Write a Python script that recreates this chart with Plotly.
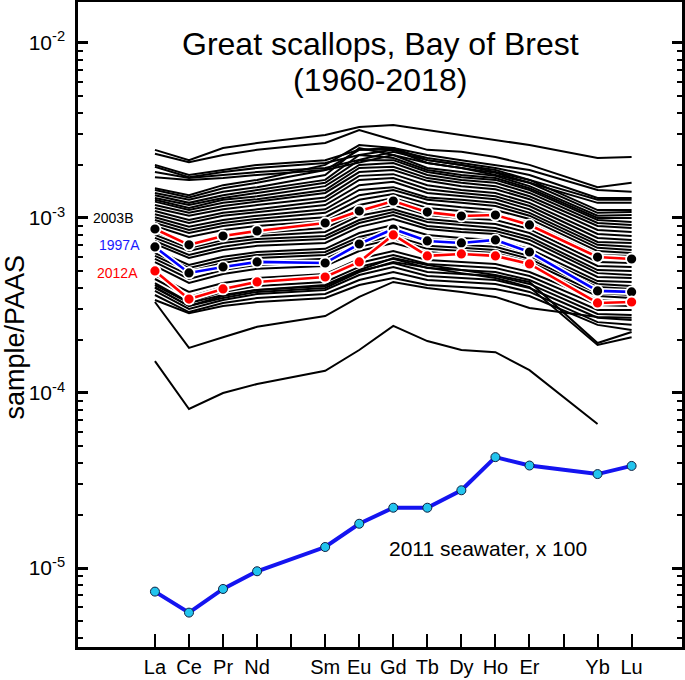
import plotly.graph_objects as go
import math

# ---------------- data ----------------
elements = ["La", "Ce", "Pr", "Nd", "Sm", "Eu", "Gd", "Tb", "Dy", "Ho", "Er", "Yb", "Lu"]
atomic_numbers = [57, 58, 59, 60, 62, 63, 64, 65, 66, 67, 68, 70, 71]
unlabelled_tick_positions = [61, 69]   # Pm, Tm
y_major_ticks = [1e-5, 1e-4, 1e-3, 1e-2]
y_major_labels = ["10<sup>-5</sup>", "10<sup>-4</sup>", "10<sup>-3</sup>", "10<sup>-2</sup>"]
y_minor_ticks = [m * 10.0 ** e for e in (-6, -5, -4, -3, -2) for m in (2, 3, 4, 5, 6, 7, 8, 9)]

# scallop samples, sample/PAAS expressed in units of 1e-4
UNIT = 1e-4
bg01 = [24.5, 21.4, 25.1, 26.8, 29.8, 33.1, 34.0, 31.8, 29.8, 27.9, 26.1, 22.0, 22.3]
bg02 = [23.3, 20.8, 22.9, 24.5, 26.8, 31.8, 27.9, 24.5, 23.9, 22.3, 20.1, 15.0, 15.9]
bg03 = [20.1, 17.6, 18.8, 20.1, 21.4, 24.5, 25.1, 22.9, 21.4, 20.1, 18.8, 14.45, 14.1]
bg04 = [19.6, 17.1, 18.3, 19.3, 20.6, 22.9, 24.5, 22.0, 20.6, 19.3, 17.6, 13.0, 13.0]
bg05 = [18.3, 16.9, 17.6, 18.3, 19.3, 21.4, 23.9, 21.4, 20.1, 18.3, 16.5, 12.7, 12.7]
bg06 = [17.1, 16.5, 16.9, 17.6, 18.8, 20.8, 22.9, 20.6, 19.3, 17.6, 15.9, 12.2, 12.2]
bg07 = [14.8, 13.5, 15.4, 16.5, 20.1, 26.1, 25.1, 21.4, 20.1, 18.8, 16.5, 11.1, 11.1]
bg08 = [14.45, 13.1, 14.8, 15.9, 18.8, 24.5, 24.5, 20.6, 19.3, 18.1, 15.9, 10.7, 10.8]
bg09 = [13.9, 12.7, 14.1, 15.0, 17.6, 25.1, 22.9, 19.3, 18.3, 17.4, 15.2, 10.3, 10.4]
bg10 = [13.5, 12.2, 13.5, 14.45, 16.5, 22.9, 22.0, 18.8, 17.6, 16.9, 14.8, 10.0, 10.0]
bg11 = [13.0, 11.85, 13.0, 13.9, 15.9, 21.4, 21.4, 18.3, 17.1, 16.5, 14.45, 9.74, 9.49]
bg12 = [12.7, 11.4, 12.7, 13.3, 15.2, 20.1, 20.6, 17.6, 16.5, 15.9, 13.9, 9.36, 9.12]
bg13 = [12.4, 11.1, 12.2, 12.8, 14.45, 19.3, 19.6, 16.9, 15.9, 15.2, 13.3, 9.0, 8.76]
bg14 = [11.85, 10.7, 11.7, 12.4, 13.9, 18.3, 18.8, 16.3, 15.2, 14.6, 12.8, 8.54, 8.32]
bg15 = [11.4, 10.3, 11.2, 11.85, 13.1, 17.4, 17.8, 15.4, 14.45, 13.9, 12.2, 8.1, 7.9]
bg16 = [10.95, 9.74, 10.7, 11.2, 12.5, 16.5, 16.9, 14.6, 13.9, 13.3, 11.7, 7.69, 7.49]
bg17 = [10.5, 9.36, 10.3, 10.8, 11.85, 15.4, 16.1, 13.9, 13.3, 12.8, 11.2, 7.3, 7.2]
bg18 = [10.1, 8.9, 9.74, 10.3, 11.2, 14.45, 15.0, 13.1, 12.7, 12.2, 10.7, 7.02, 6.84]
bg19 = [9.74, 8.54, 9.36, 9.87, 10.7, 13.5, 14.45, 12.7, 12.2, 11.7, 10.3, 6.75, 6.56]
bg20 = [9.36, 8.2, 9.0, 9.49, 10.1, 12.7, 13.7, 12.05, 11.5, 11.1, 9.87, 6.47, 6.3]
bg21 = [9.0, 7.79, 8.54, 9.0, 9.6, 11.85, 13.0, 11.4, 10.95, 10.5, 9.36, 6.15, 6.07]
bg22 = [8.32, 7.11, 7.79, 8.2, 8.76, 10.8, 11.85, 10.4, 10.0, 9.74, 8.65, 5.6, 5.53]
bg23 = [8.0, 6.75, 7.49, 7.9, 8.32, 10.3, 11.2, 9.87, 9.49, 9.24, 8.2, 5.32, 5.25]
bg24 = [7.69, 6.47, 7.2, 7.59, 7.9, 9.74, 10.8, 9.49, 9.12, 8.76, 7.79, 5.04, 4.97]
bg25 = [7.39, 6.15, 6.84, 7.3, 7.59, 9.36, 10.4, 9.0, 8.65, 8.43, 7.49, 4.84, 4.72]
bg26 = [7.11, 5.91, 6.56, 6.93, 7.2, 8.9, 9.87, 8.65, 8.32, 8.1, 7.11, 4.6, 4.54]
bg27 = [6.56, 5.39, 6.0, 6.39, 6.66, 8.2, 9.12, 8.0, 7.69, 7.49, 6.66, 4.36, 4.31]
bg28 = [6.3, 5.18, 5.75, 6.15, 6.39, 7.79, 8.65, 7.59, 7.39, 7.2, 6.3, 4.2, 4.09]
bg29 = [6.07, 4.97, 5.53, 5.91, 6.15, 7.49, 8.32, 7.3, 7.02, 6.84, 6.07, 4.03, 3.93]
bg30 = [5.84, 4.72, 5.25, 5.6, 5.84, 7.11, 7.9, 6.93, 6.75, 6.56, 5.84, 3.88, 3.78]
bg31 = [5.6, 4.48, 5.04, 5.39, 5.6, 6.84, 7.59, 6.66, 6.47, 6.3, 5.6, 3.73, 3.63]
bg32 = [5.32, 4.25, 4.78, 5.12, 5.32, 6.47, 7.2, 6.39, 6.15, 6.0, 5.32, 3.58, 3.49]
bg33 = [4.72, 3.78, 4.25, 4.54, 4.78, 5.84, 6.47, 5.75, 5.6, 5.46, 4.91, 3.4, 3.31]
bg34 = [4.48, 3.54, 4.03, 4.31, 4.54, 5.53, 6.15, 5.46, 5.32, 5.18, 4.66, 3.18, 3.14]
bg35 = [4.25, 3.31, 3.78, 4.09, 4.31, 5.25, 5.84, 5.18, 5.04, 4.91, 4.42, 2.98, 2.98]
bg36 = [4.03, 3.14, 3.58, 3.88, 4.09, 4.97, 5.53, 4.91, 4.78, 4.66, 4.2, 2.83, 2.79]
bg37 = [3.83, 3.02, 3.4, 3.68, 3.88, 4.72, 5.25, 4.66, 4.54, 4.42, 3.98, 2.69, 2.61]
bg38 = [3.63, 2.90, 3.27, 3.49, 3.68, 4.42, 4.91, 4.42, 4.31, 4.2, 3.78, 2.54, 2.45]
bg39 = [3.4, 2.86, 3.14, 3.31, 3.49, 4.14, 4.54, 4.14, 4.03, 3.93, 3.58, 2.45, 2.29]
bg40 = [3.31, 1.81, 2.08, 2.39, 2.75, 3.54, 4.31, 3.98, 3.78, 3.54, 3.06, 2.72, 2.69]
bg41 = [1.52, 0.81, 1.0, 1.125, 1.34, 1.76, 2.42, 1.98, 1.76, 1.71, 1.35, 0.665, None]
bg42 = [4.14, 3.27, 3.63, 3.88, 4.14, 5.04, 5.91, 5.39, 5.04, 4.72, 4.31, 1.93, 2.23]
bg43 = [3.98, 3.14, 3.49, 3.78, 3.98, 4.91, 5.6, 5.18, 4.84, 4.54, 4.03, 1.88, 2.08]
background_samples = [bg01, bg02, bg03, bg04, bg05, bg06, bg07, bg08, bg09, bg10, bg11,
                      bg12, bg13, bg14, bg15, bg16, bg17, bg18, bg19, bg20, bg21, bg22,
                      bg23, bg24, bg25, bg26, bg27, bg28, bg29, bg30, bg31, bg32, bg33,
                      bg34, bg35, bg36, bg37, bg38, bg39, bg40, bg41, bg42, bg43]

sample_2003B = [8.65, 7.02, 7.89, 8.43, 9.36, 10.96, 12.5, 10.8, 10.26, 10.4, 9.12, 5.98, 5.83]
sample_1997A = [6.83, 4.85, 5.25, 5.61, 5.53, 7.1, 8.65, 7.39, 7.2, 7.49, 6.39, 3.83, 3.78]
sample_2012A = [4.98, 3.44, 3.93, 4.31, 4.6, 5.61, 8.0, 6.07, 6.23, 6.07, 5.46, 3.27, 3.31]

# 2011 seawater x 100 (sample/PAAS)
seawater_2011_x100 = [7.33e-6, 5.56e-6, 7.59e-6, 9.58e-6, 1.318e-5, 1.79e-5, 2.21e-5,
                      2.21e-5, 2.78e-5, 4.30e-5, 3.85e-5, 3.44e-5, 3.83e-5]

title_line1 = "Great scallops, Bay of Brest"
title_line2 = "(1960-2018)"
y_title = "sample/PAAS"
seawater_label = "2011 seawater, x 100"

# ---------------- figure ----------------
FONT = "Liberation Sans, Arial, Helvetica, sans-serif"
fig = go.Figure()


def scaled(vals):
    return [None if v is None else v * UNIT for v in vals]


for s in background_samples:
    fig.add_trace(go.Scatter(x=atomic_numbers, y=scaled(s), mode="lines",
                             line=dict(color="black", width=2), hoverinfo="skip",
                             showlegend=False))

highlights = [
    (sample_2003B, "#ff0000", "black"),
    (sample_1997A, "#0000ff", "black"),
    (sample_2012A, "#ff0000", "#ff0000"),
]
for vals, lcol, mcol in highlights:
    fig.add_trace(go.Scatter(x=atomic_numbers, y=scaled(vals), mode="lines",
                             line=dict(color="white", width=6), hoverinfo="skip",
                             showlegend=False))
    fig.add_trace(go.Scatter(x=atomic_numbers, y=scaled(vals), mode="lines+markers",
                             line=dict(color=lcol, width=2.6),
                             marker=dict(size=11, color=mcol, line=dict(color="white", width=1.8)),
                             showlegend=False))

fig.add_trace(go.Scatter(x=atomic_numbers, y=seawater_2011_x100, mode="lines+markers",
                         line=dict(color="#1414f0", width=4),
                         marker=dict(size=9, color="#22c4ee", line=dict(color="#102040", width=1)),
                         showlegend=False))

labels = [("2003B", "black", 56.41, 1e-3), ("1997A", "#1a1aff", 56.62, 7.0e-4),
          ("2012A", "#ff0000", 56.56, 4.85e-4)]
for txt, col, xr, yv in labels:
    fig.add_annotation(x=xr, y=math.log10(yv), xref="x", yref="y", text=txt, showarrow=False,
                       xanchor="right", yanchor="middle", font=dict(family=FONT, size=14, color=col))

fig.add_annotation(x=66.78, y=math.log10(1.3e-5), xref="x", yref="y", text=seawater_label,
                   showarrow=False, xanchor="center", yanchor="middle",
                   font=dict(family=FONT, size=21, color="black"))

fig.add_annotation(x=0.5, y=0.935, xref="paper", yref="paper", text=title_line1, showarrow=False,
                   xanchor="center", yanchor="middle", font=dict(family=FONT, size=32, color="black"))
fig.add_annotation(x=0.5, y=0.879, xref="paper", yref="paper", text=title_line2, showarrow=False,
                   xanchor="center", yanchor="middle", font=dict(family=FONT, size=32, color="black"))
fig.add_annotation(x=-0.104, y=0.48, xref="paper", yref="paper", text=y_title, showarrow=False,
                   textangle=-90, xanchor="center", yanchor="middle",
                   font=dict(family=FONT, size=27, color="black"))

fig.update_layout(
    width=685, height=680,
    margin=dict(l=78, r=3, t=2, b=33),
    paper_bgcolor="white", plot_bgcolor="white",
    font=dict(family=FONT, color="black"),
    showlegend=False,
    xaxis=dict(range=[54.74, 72.48], tickmode="array", tickvals=atomic_numbers,
               ticktext=elements, ticks="inside", ticklen=13, tickwidth=2,
               tickcolor="black", showline=True, linecolor="black", linewidth=2.5,
               mirror=True, showgrid=False, zeroline=False, automargin=False,
               tickfont=dict(family=FONT, size=20, color="black"),
               minor=dict(tickmode="array", tickvals=unlabelled_tick_positions, ticks="inside",
                          ticklen=13, tickwidth=2, tickcolor="black", showgrid=False)),
    yaxis=dict(type="log", range=[-5.4514, -1.766], tickmode="array", tickvals=y_major_ticks,
               ticktext=y_major_labels, ticks="inside", ticklen=10, tickwidth=2.5,
               tickcolor="black", showline=True, linecolor="black", linewidth=2.5,
               mirror="ticks", showgrid=False, zeroline=False, ticklabelstandoff=6,
               automargin=False,
               tickfont=dict(family=FONT, size=21, color="black"),
               minor=dict(tickmode="array", tickvals=y_minor_ticks, ticks="inside", ticklen=5,
                          tickwidth=2, tickcolor="black", showgrid=False)),
)

fig.write_html("out.html", config={"displayModeBar": False},
               post_script="document.body.style.margin='0';document.body.style.padding='0';")
